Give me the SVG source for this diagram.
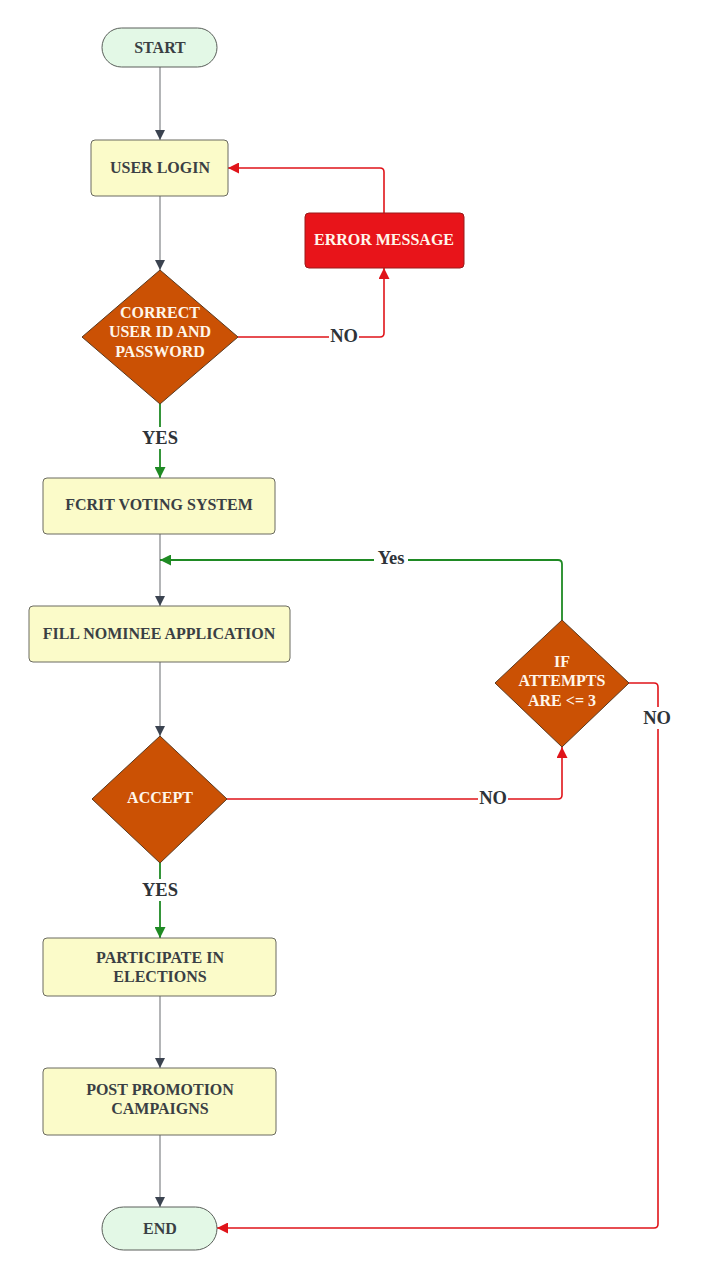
<svg xmlns="http://www.w3.org/2000/svg" width="702" height="1280" viewBox="0 0 702 1280">
<defs>
<marker id="ag" viewBox="0 0 10 10" refX="10" refY="5" markerWidth="10" markerHeight="10" markerUnits="userSpaceOnUse" orient="auto"><path d="M0,0 L10,5 L0,10 z" fill="#3b4350"/></marker>
<marker id="ar" viewBox="0 0 10 10" refX="10" refY="5" markerWidth="11" markerHeight="11" markerUnits="userSpaceOnUse" orient="auto"><path d="M0,0 L10,5 L0,10 z" fill="#e0141a"/></marker>
<marker id="agr" viewBox="0 0 10 10" refX="10" refY="5" markerWidth="11" markerHeight="11" markerUnits="userSpaceOnUse" orient="auto"><path d="M0,0 L10,5 L0,10 z" fill="#1f8a24"/></marker>
</defs>
<style>
text{font-family:"Liberation Serif","Times New Roman",serif;font-weight:bold;text-anchor:middle;dominant-baseline:central}
.pill{fill:#e3f8e6;stroke:#5a5f5a;stroke-width:1}
.box{fill:#fbfbc9;stroke:#6a6a60;stroke-width:1}
.dia{fill:#cb5104;stroke:#5a3a20;stroke-width:1}
.t{font-size:16px;fill:#3a3f44}
.tw{font-size:16px;fill:#fff6ea}
.lbl{font-size:18.5px;fill:#2e3338}
.g{fill:none;stroke:#8a8d90;stroke-width:1.3}
.r{fill:none;stroke:#e0141a;stroke-width:1.6}
.gr{fill:none;stroke:#1f8a24;stroke-width:1.8}
</style>
<rect width="702" height="1280" fill="#ffffff"/>
<g id="connectors">
<path class="g" d="M160,67 V140" marker-end="url(#ag)"/>
<path class="g" d="M160,196 V270" marker-end="url(#ag)"/>
<path class="r" d="M384,213 V172 Q384,168 380,168 H228" marker-end="url(#ar)"/>
<path class="r" d="M238,337 H380 Q384,337 384,333 V268" marker-end="url(#ar)"/>
<path class="gr" d="M160,404 V478" marker-end="url(#agr)"/>
<path class="g" d="M160,534 V606" marker-end="url(#ag)"/>
<path class="gr" d="M562,620 V564 Q562,560 558,560 H160" marker-end="url(#agr)"/>
<path class="g" d="M160,662 V736" marker-end="url(#ag)"/>
<path class="r" d="M227,799 H558 Q562,799 562,795 V747" marker-end="url(#ar)"/>
<path class="r" d="M629,683 H654 Q658,683 658,687 V1224 Q658,1228 654,1228 H217" marker-end="url(#ar)"/>
<path class="gr" d="M160,863 V938" marker-end="url(#agr)"/>
<path class="g" d="M160,996 V1068" marker-end="url(#ag)"/>
<path class="g" d="M160,1135 V1207" marker-end="url(#ag)"/>
<rect x="329" y="325" width="30" height="22" fill="#fff"/>
<text class="lbl" x="344" y="336">NO</text>
<rect x="141" y="427" width="38" height="22" fill="#fff"/>
<text class="lbl" x="160" y="438">YES</text>
<rect x="374" y="547" width="34" height="22" fill="#fff"/>
<text class="lbl" x="391" y="558">Yes</text>
<rect x="642" y="707" width="30" height="22" fill="#fff"/>
<text class="lbl" x="657" y="718">NO</text>
<rect x="478" y="788" width="30" height="22" fill="#fff"/>
<text class="lbl" x="493" y="798">NO</text>
<rect x="141" y="879" width="38" height="22" fill="#fff"/>
<text class="lbl" x="160" y="890">YES</text>
</g>
<g id="start"><rect class="pill" x="102" y="28" width="115" height="39" rx="19.5"/><text class="t" x="160" y="47">START</text></g>
<g id="user-login"><rect class="box" x="91" y="140" width="137" height="56" rx="4"/><text class="t" x="160" y="167">USER LOGIN</text></g>
<g id="error-message"><rect x="305" y="213" width="159" height="55" rx="4" fill="#e8141a" stroke="#9a1a1a" stroke-width="1"/><text class="tw" x="384" y="239" fill="#fff">ERROR MESSAGE</text></g>
<g id="correct-check"><path class="dia" d="M160,270 L238,337 L160,404 L82,337 Z" stroke-linejoin="round"/><text class="tw" x="160" y="312">CORRECT</text><text class="tw" x="160" y="331">USER ID AND</text><text class="tw" x="160" y="351">PASSWORD</text></g>
<g id="fcrit"><rect class="box" x="43" y="478" width="232" height="56" rx="4"/><text class="t" x="159" y="504">FCRIT VOTING SYSTEM</text></g>
<g id="fill-nominee"><rect class="box" x="29" y="606" width="261" height="56" rx="4"/><text class="t" x="159" y="633">FILL NOMINEE APPLICATION</text></g>
<g id="attempts"><path class="dia" d="M562,620 L629,683 L562,747 L495,683 Z" stroke-linejoin="round"/><text class="tw" x="562" y="661">IF</text><text class="tw" x="562" y="680">ATTEMPTS</text><text class="tw" x="562" y="700">ARE &lt;= 3</text></g>
<g id="accept"><path class="dia" d="M160,736 L227,799 L160,863 L92,799 Z" stroke-linejoin="round"/><text class="tw" x="160" y="797">ACCEPT</text></g>
<g id="participate"><rect class="box" x="43" y="938" width="233" height="58" rx="4"/><text class="t" x="160" y="957">PARTICIPATE IN</text><text class="t" x="160" y="976">ELECTIONS</text></g>
<g id="post-promotion"><rect class="box" x="43" y="1068" width="233" height="67" rx="4"/><text class="t" x="160" y="1089">POST PROMOTION</text><text class="t" x="160" y="1108">CAMPAIGNS</text></g>
<g id="end"><rect class="pill" x="102" y="1207" width="115" height="43" rx="21.5"/><text class="t" x="160" y="1228">END</text></g>
</svg>
